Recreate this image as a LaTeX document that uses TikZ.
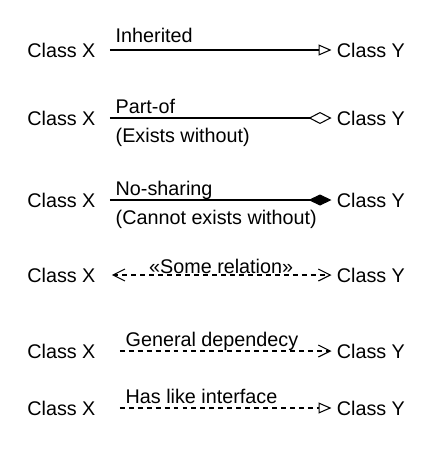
\documentclass[tikz,border=0pt]{standalone}
\usepackage{fontspec}
\setmainfont{Liberation Sans}
\usetikzlibrary{positioning,arrows.meta}

\tikzset{
  cls/.style={inner sep=0pt,font=\fontsize{11.25}{13}\selectfont},
  lbl/.style={inner sep=2.5pt,text depth=0pt,font=\fontsize{11.25}{13}\selectfont},
  rel/.style={line width=0.6pt,line join=miter,shorten <=0.28cm,shorten >=0.1cm},
  dep/.style={rel,dash pattern=on 2.8pt off 2.3pt}
}

\begin{document}
\begin{tikzpicture}[x=0.02cm,y=-0.02cm]
\useasboundingbox (0,0) rectangle (440,450);
% class names
\node[cls,anchor=west] (x1) at (27,50) {Class X};
\node[cls,anchor=west] (y1) at (336.5,50) {Class Y};
\node[cls,anchor=west] (x2) at (27,118) {Class X};
\node[cls,anchor=west] (y2) at (336.5,118) {Class Y};
\node[cls,anchor=west] (x3) at (27,200) {Class X};
\node[cls,anchor=west] (y3) at (336.5,200) {Class Y};
\node[cls,anchor=west] (x4) at (27,275) {Class X};
\node[cls,anchor=west] (y4) at (336.5,275) {Class Y};
\node[cls,anchor=west] (x5) at (27,351) {Class X};
\node[cls,anchor=west] (y5) at (336.5,351) {Class Y};
\node[cls,anchor=west] (x6) at (27,408) {Class X};
\node[cls,anchor=west] (y6) at (336.5,408) {Class Y};
% relations
\draw[rel,-{Triangle[open,length=2.6mm,width=2.2mm]}] (x1.east) -- (y1.west)
  node[pos=0,lbl,anchor=south west,xshift=0.3cm,yshift=0.05cm] {Inherited};
\draw[rel,-{Diamond[open,length=4.6mm,width=2.4mm]}] (x2.east) -- (y2.west)
  node[pos=0,lbl,anchor=south west,xshift=0.3cm] {Part-of}
  node[pos=0,lbl,anchor=north west,xshift=0.3cm,yshift=-0.1cm] {(Exists without)};
\draw[rel,-{Diamond[length=4.6mm,width=2.2mm]}] (x3.east) -- (y3.west)
  node[pos=0,lbl,anchor=south west,xshift=0.3cm] {No-sharing}
  node[pos=0,lbl,anchor=north west,xshift=0.3cm,yshift=-0.1cm] {(Cannot exists without)};
\draw[dep,{Straight Barb[length=2.4mm,width=2.4mm]}-{Straight Barb[length=2.4mm,width=2.4mm]},shorten <=0.32cm] (x4.east) -- (y4.west)
  node[midway,lbl,above,xshift=0.1cm,yshift=-0.07cm] {«Some relation»};
\draw[dep,-{Straight Barb[length=2.4mm,width=2.4mm]},shorten <=0.48cm] (x5.east) -- (y5.west)
  node[pos=0,lbl,anchor=south west,xshift=0.5cm] {General dependecy};
\draw[dep,-{Triangle[open,length=2.6mm,width=2.2mm]},shorten <=0.48cm] (x6.east) -- (y6.west)
  node[pos=0,lbl,anchor=south west,xshift=0.5cm] {Has like interface};
\end{tikzpicture}
\end{document}
